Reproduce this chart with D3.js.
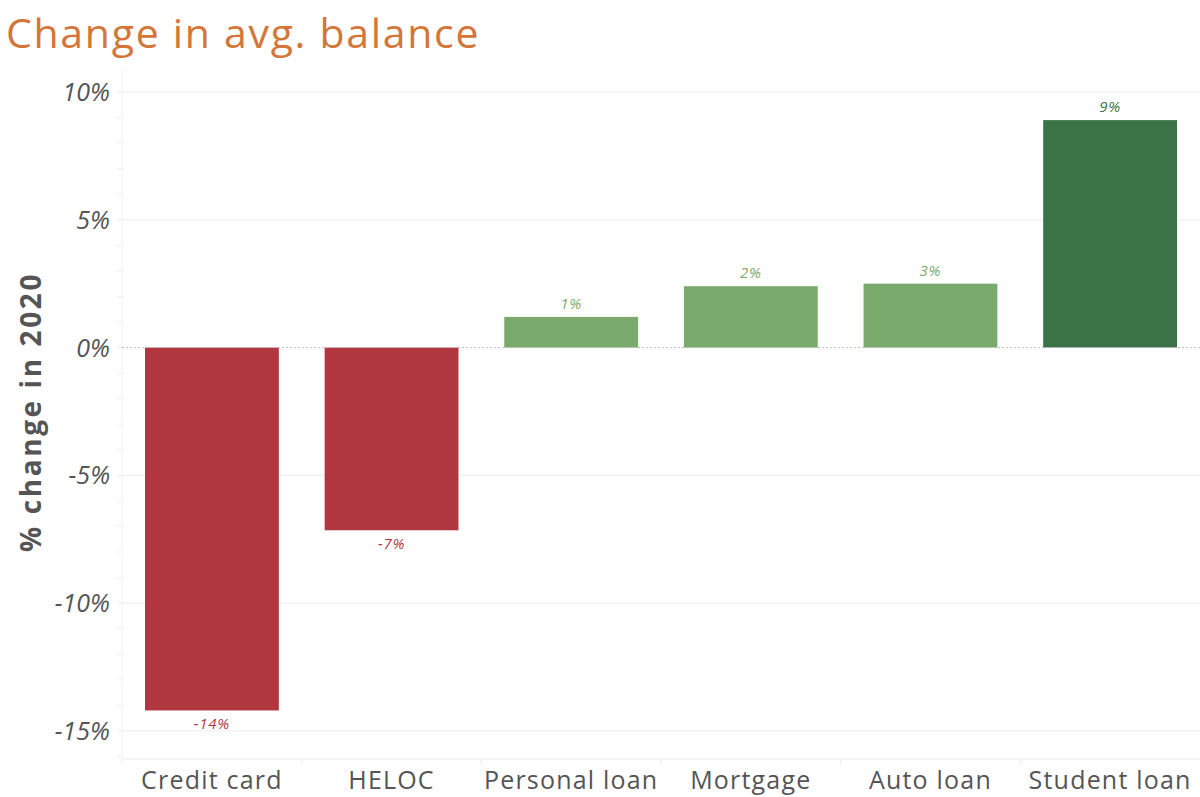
<!DOCTYPE html>
<html>
<head>
<meta charset="utf-8">
<title>Change in avg. balance</title>
<script src="https://cdn.jsdelivr.net/npm/d3@7"></script>
<style>
  body { margin: 0; background: #fff; }
  svg text { font-family: "Open Sans", sans-serif; }
</style>
</head>
<body>
<script>
  // data
  const categories = ['Credit card', 'HELOC', 'Personal loan', 'Mortgage', 'Auto loan', 'Student loan'];
  const values = [-14.2, -7.15, 1.2, 2.4, 2.5, 8.9];
  const valueLabels = ['-14%', '-7%', '1%', '2%', '3%', '9%'];
  const yTicks = [10, 5, 0, -5, -10, -15];

  const width = 1200, height = 797;
  const plotLeft = 122, plotRight = 1200, plotTop = 69, plotBottom = 759;

  const svg = d3.select('body').append('svg')
    .attr('width', width)
    .attr('height', height);

  const x = d3.scaleBand()
    .domain(categories)
    .range([plotLeft, plotRight])
    .paddingInner(0.255)
    .paddingOuter(0.128);

  const y = d3.scaleLinear()
    .domain([-16.1, 10.9])
    .range([plotBottom, plotTop]);

  function barColor(v) {
    if (v < 0) return '#b03640';
    if (v > 5) return '#3b7347';
    return '#79aa6c';
  }

  // title
  svg.append('text')
    .attr('x', 6)
    .attr('y', 48)
    .attr('fill', '#d4763a')
    .style('font-size', '41px')
    .style('letter-spacing', '1.7px')
    .text('Change in avg. balance');

  // grid
  svg.append('g')
    .selectAll('line')
    .data(yTicks.filter(d => d !== 0))
    .join('line')
    .attr('x1', plotLeft).attr('x2', plotRight)
    .attr('y1', d => y(d)).attr('y2', d => y(d))
    .attr('stroke', '#ececec');

  // minor ticks every 1%
  svg.append('g')
    .selectAll('line')
    .data(d3.range(-16, 11))
    .join('line')
    .attr('x1', plotLeft - 5).attr('x2', plotLeft)
    .attr('y1', d => y(d)).attr('y2', d => y(d))
    .attr('stroke', '#f0f0f0');

  // axis frame
  svg.append('line')
    .attr('x1', plotLeft).attr('x2', plotLeft)
    .attr('y1', plotTop).attr('y2', plotBottom + 5)
    .attr('stroke', '#f0f0f0');
  svg.append('line')
    .attr('x1', plotLeft).attr('x2', plotRight)
    .attr('y1', plotBottom).attr('y2', plotBottom)
    .attr('stroke', '#ececec');

  // separators between categories
  svg.append('g')
    .selectAll('line')
    .data(categories.slice(1))
    .join('line')
    .attr('x1', d => x(d) - x.step() * x.paddingInner() / 2)
    .attr('x2', d => x(d) - x.step() * x.paddingInner() / 2)
    .attr('y1', plotBottom).attr('y2', plotBottom + 6)
    .attr('stroke', '#ececec');

  // bars
  svg.append('g')
    .selectAll('rect')
    .data(values)
    .join('rect')
    .attr('x', (d, i) => x(categories[i]))
    .attr('width', x.bandwidth())
    .attr('y', d => y(Math.max(0, d)))
    .attr('height', d => Math.abs(y(d) - y(0)))
    .attr('fill', d => barColor(d));

  // zero line
  svg.append('line')
    .attr('x1', plotLeft).attr('x2', plotRight)
    .attr('y1', y(0)).attr('y2', y(0))
    .attr('stroke', '#bbb')
    .attr('stroke-dasharray', '2,2');

  // value labels
  svg.append('g')
    .selectAll('text')
    .data(values)
    .join('text')
    .attr('x', (d, i) => x(categories[i]) + x.bandwidth() / 2)
    .attr('y', d => d < 0 ? y(d) + 19 : y(d) - 8)
    .attr('text-anchor', 'middle')
    .attr('fill', d => barColor(d))
    .style('font-size', '15px')
    .style('font-style', 'italic')
    .style('letter-spacing', '0.8px')
    .text((d, i) => valueLabels[i]);

  // y tick labels
  svg.append('g')
    .selectAll('text')
    .data(yTicks)
    .join('text')
    .attr('x', 110)
    .attr('y', d => y(d) + 9)
    .attr('text-anchor', 'end')
    .attr('fill', '#555')
    .style('font-size', '25px')
    .style('font-style', 'italic')
    .text(d => d + '%');

  // x labels
  svg.append('g')
    .selectAll('text')
    .data(categories)
    .join('text')
    .attr('x', d => x(d) + x.bandwidth() / 2)
    .attr('y', 789)
    .attr('text-anchor', 'middle')
    .attr('fill', '#555')
    .style('font-size', '25px')
    .style('letter-spacing', '1.2px')
    .text(d => d);

  // y axis title
  svg.append('text')
    .attr('transform', 'translate(41,' + 412 + ') rotate(-90)')
    .attr('text-anchor', 'middle')
    .attr('fill', '#555')
    .style('font-size', '28px')
    .style('font-weight', 'bold')
    .style('letter-spacing', '2.6px')
    .text('% change in 2020');
</script>
</body>
</html>
